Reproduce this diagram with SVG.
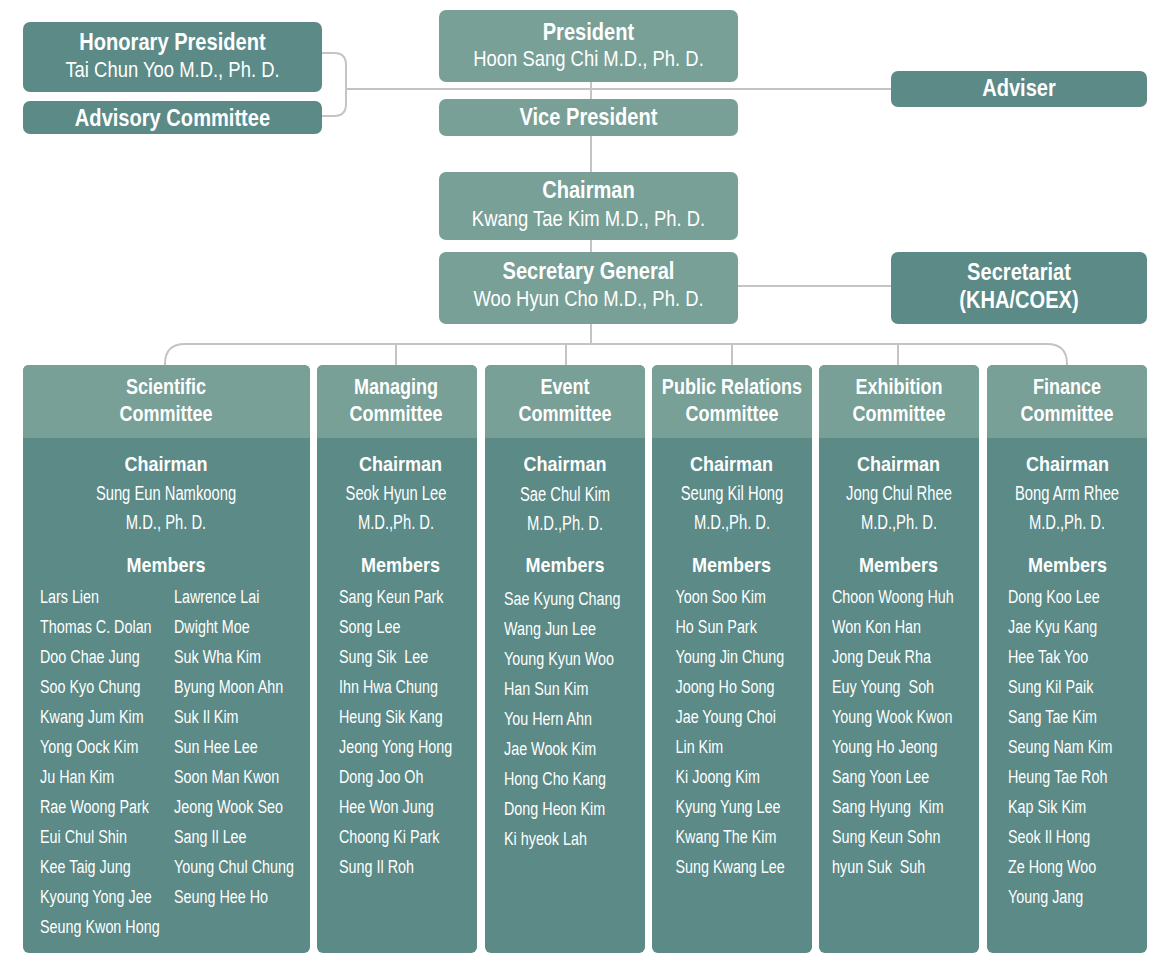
<svg xmlns="http://www.w3.org/2000/svg" width="1152" height="955" viewBox="0 0 1152 955">
<style>
.bg{fill:#ffffff}
.lt{fill:#78a097}
.dk{fill:#5b8a87}
.ln{fill:none;stroke:#c4c4c4;stroke-width:2}
text{fill:#ffffff;text-anchor:middle;font-family:"Liberation Sans",Arial,sans-serif}
.tb{font-weight:bold;font-size:24.5px}
.tr{font-size:22.5px}
.hb{font-weight:bold;font-size:22px}
.sb{font-weight:bold;font-size:20px}
.nm{font-size:19.5px}
.ls{font-size:19px;text-anchor:start}
</style>
<rect class="bg" x="0" y="0" width="1152" height="955"/>
<g id="connectors">
<path class="ln" d="M322,53 H334 Q346,53 346,65 V104 Q346,116 334,116 H322"/>
<path class="ln" d="M346,89 H891"/>
<path class="ln" d="M591,82 V344"/>
<path class="ln" d="M738,286 H891"/>
<path class="ln" d="M165,365 V364 Q165,344 185,344 H1047 Q1067,344 1067,364 V365"/>
<path class="ln" d="M396,344 V365 M566,344 V365 M732,344 V365 M898,344 V365"/>
</g>
<g id="honorary-president">
<rect class="dk" x="23" y="22" width="299" height="70" rx="7"/>
<g transform="matrix(0.82,0,0,1,31.05,0)">
<text class="tb" x="172.5" y="50">Honorary President</text>
<text class="tr" x="172.5" y="77.5">Tai Chun Yoo M.D., Ph. D.</text>
</g>
</g>
<g id="advisory-committee">
<rect class="dk" x="23" y="101" width="299" height="33" rx="7"/>
<g transform="matrix(0.82,0,0,1,31.05,0)">
<text class="tb" x="172.5" y="126">Advisory Committee</text>
</g>
</g>
<g id="president">
<rect class="lt" x="439" y="10" width="299" height="72" rx="7"/>
<g transform="matrix(0.82,0,0,1,105.93,0)">
<text class="tb" x="588.5" y="40">President</text>
<text class="tr" x="588.5" y="66.5">Hoon Sang Chi M.D., Ph. D.</text>
</g>
</g>
<g id="vice-president">
<rect class="lt" x="439" y="99" width="299" height="37" rx="7"/>
<g transform="matrix(0.82,0,0,1,105.93,0)">
<text class="tb" x="588.5" y="125">Vice President</text>
</g>
</g>
<g id="adviser">
<rect class="dk" x="891" y="71" width="256" height="36" rx="7"/>
<g transform="matrix(0.82,0,0,1,183.42,0)">
<text class="tb" x="1019" y="96">Adviser</text>
</g>
</g>
<g id="chairman">
<rect class="lt" x="439" y="172" width="299" height="68" rx="7"/>
<g transform="matrix(0.82,0,0,1,105.93,0)">
<text class="tb" x="588.5" y="198.5">Chairman</text>
<text class="tr" x="588.5" y="226">Kwang Tae Kim M.D., Ph. D.</text>
</g>
</g>
<g id="secretary-general">
<rect class="lt" x="439" y="252" width="299" height="72" rx="7"/>
<g transform="matrix(0.82,0,0,1,105.93,0)">
<text class="tb" x="588.5" y="279.5">Secretary General</text>
<text class="tr" x="588.5" y="306.5">Woo Hyun Cho M.D., Ph. D.</text>
</g>
</g>
<g id="secretariat">
<rect class="dk" x="891" y="252" width="256" height="72" rx="7"/>
<g transform="matrix(0.82,0,0,1,183.42,0)">
<text class="tb" x="1019" y="280">Secretariat</text>
<text class="tb" x="1019" y="308">(KHA/COEX)</text>
</g>
</g>

<g id="scientific-committee">
<rect class="dk" x="23" y="365" width="287" height="588" rx="6"/>
<path class="lt" d="M23,438 V371 Q23,365 29,365 H304 Q310,365 310,371 V438 Z"/>
<g transform="matrix(0.82,0,0,1,29.88,0)">
<text class="hb" x="166" y="394.5">Scientific</text>
<text class="hb" x="166" y="421.5">Committee</text>
</g>
<g transform="matrix(0.757,0,0,1,40.34,0)">
<text class="nm" x="166" y="500">Sung Eun Namkoong</text>
<text class="nm" x="166" y="529">M.D., Ph. D.</text>
</g>
<g transform="matrix(0.9,0,0,1,16.6,0)">
<text class="sb" x="166" y="471.5">Chairman</text>
<text class="sb" x="166" y="572">Members</text>
</g>
<g transform="matrix(0.7553,0,0,1,9.79,0)">
<text class="ls" x="40" y="603">Lars Lien</text>
<text class="ls" x="40" y="633">Thomas C. Dolan</text>
<text class="ls" x="40" y="663">Doo Chae Jung</text>
<text class="ls" x="40" y="693">Soo Kyo Chung</text>
<text class="ls" x="40" y="723">Kwang Jum Kim</text>
<text class="ls" x="40" y="753">Yong Oock Kim</text>
<text class="ls" x="40" y="783">Ju Han Kim</text>
<text class="ls" x="40" y="813">Rae Woong Park</text>
<text class="ls" x="40" y="843">Eui Chul Shin</text>
<text class="ls" x="40" y="873">Kee Taig Jung</text>
<text class="ls" x="40" y="903">Kyoung Yong Jee</text>
<text class="ls" x="40" y="933">Seung Kwon Hong</text>
</g>
<g transform="matrix(0.7553,0,0,1,42.58,0)">
<text class="ls" x="174" y="603">Lawrence Lai</text>
<text class="ls" x="174" y="633">Dwight Moe</text>
<text class="ls" x="174" y="663">Suk Wha Kim</text>
<text class="ls" x="174" y="693">Byung Moon Ahn</text>
<text class="ls" x="174" y="723">Suk Il Kim</text>
<text class="ls" x="174" y="753">Sun Hee Lee</text>
<text class="ls" x="174" y="783">Soon Man Kwon</text>
<text class="ls" x="174" y="813">Jeong Wook Seo</text>
<text class="ls" x="174" y="843">Sang Il Lee</text>
<text class="ls" x="174" y="873">Young Chul Chung</text>
<text class="ls" x="174" y="903">Seung Hee Ho</text>
</g>
</g>

<g id="managing-committee">
<rect class="dk" x="317" y="365" width="160" height="588" rx="6"/>
<path class="lt" d="M317,438 V371 Q317,365 323,365 H471 Q477,365 477,371 V438 Z"/>
<g transform="matrix(0.82,0,0,1,71.28,0)">
<text class="hb" x="396" y="394.5">Managing</text>
<text class="hb" x="396" y="421.5">Committee</text>
</g>
<g transform="matrix(0.757,0,0,1,96.23,0)">
<text class="nm" x="396" y="500">Seok Hyun Lee</text>
<text class="nm" x="396" y="529">M.D.,Ph. D.</text>
</g>
<g transform="matrix(0.9,0,0,1,40.05,0)">
<text class="sb" x="400.5" y="471.5">Chairman</text>
<text class="sb" x="400.5" y="572">Members</text>
</g>
<g transform="matrix(0.7553,0,0,1,82.95,0)">
<text class="ls" x="339" y="603">Sang Keun Park</text>
<text class="ls" x="339" y="633">Song Lee</text>
<text class="ls" x="339" y="663" xml:space="preserve">Sung Sik  Lee</text>
<text class="ls" x="339" y="693">Ihn Hwa Chung</text>
<text class="ls" x="339" y="723">Heung Sik Kang</text>
<text class="ls" x="339" y="753">Jeong Yong Hong</text>
<text class="ls" x="339" y="783">Dong Joo Oh</text>
<text class="ls" x="339" y="813">Hee Won Jung</text>
<text class="ls" x="339" y="843">Choong Ki Park</text>
<text class="ls" x="339" y="873">Sung Il Roh</text>
</g>
</g>

<g id="event-committee">
<rect class="dk" x="485" y="365" width="160" height="588" rx="6"/>
<path class="lt" d="M485,438 V371 Q485,365 491,365 H639 Q645,365 645,371 V438 Z"/>
<g transform="matrix(0.82,0,0,1,101.7,0)">
<text class="hb" x="565" y="394.5">Event</text>
<text class="hb" x="565" y="421.5">Committee</text>
</g>
<g transform="matrix(0.757,0,0,1,137.3,0)">
<text class="nm" x="565" y="501">Sae Chul Kim</text>
<text class="nm" x="565" y="530">M.D.,Ph. D.</text>
</g>
<g transform="matrix(0.9,0,0,1,56.5,0)">
<text class="sb" x="565" y="471.5">Chairman</text>
<text class="sb" x="565" y="572">Members</text>
</g>
<g transform="matrix(0.7553,0,0,1,123.33,0)">
<text class="ls" x="504" y="605">Sae Kyung Chang</text>
<text class="ls" x="504" y="635">Wang Jun Lee</text>
<text class="ls" x="504" y="665">Young Kyun Woo</text>
<text class="ls" x="504" y="695">Han Sun Kim</text>
<text class="ls" x="504" y="725">You Hern Ahn</text>
<text class="ls" x="504" y="755">Jae Wook Kim</text>
<text class="ls" x="504" y="785">Hong Cho Kang</text>
<text class="ls" x="504" y="815">Dong Heon Kim</text>
<text class="ls" x="504" y="845">Ki hyeok Lah</text>
</g>
</g>

<g id="public-relations-committee">
<rect class="dk" x="652" y="365" width="160" height="588" rx="6"/>
<path class="lt" d="M652,438 V371 Q652,365 658,365 H806 Q812,365 812,371 V438 Z"/>
<g transform="matrix(0.82,0,0,1,131.76,0)">
<text class="hb" x="732" y="394.5">Public Relations</text>
<text class="hb" x="732" y="421.5">Committee</text>
</g>
<g transform="matrix(0.757,0,0,1,177.88,0)">
<text class="nm" x="732" y="500">Seung Kil Hong</text>
<text class="nm" x="732" y="529">M.D.,Ph. D.</text>
</g>
<g transform="matrix(0.9,0,0,1,73.15,0)">
<text class="sb" x="731.5" y="471.5">Chairman</text>
<text class="sb" x="731.5" y="572">Members</text>
</g>
<g transform="matrix(0.7553,0,0,1,165.29,0)">
<text class="ls" x="675.5" y="603">Yoon Soo Kim</text>
<text class="ls" x="675.5" y="633">Ho Sun Park</text>
<text class="ls" x="675.5" y="663">Young Jin Chung</text>
<text class="ls" x="675.5" y="693">Joong Ho Song</text>
<text class="ls" x="675.5" y="723">Jae Young Choi</text>
<text class="ls" x="675.5" y="753">Lin Kim</text>
<text class="ls" x="675.5" y="783">Ki Joong Kim</text>
<text class="ls" x="675.5" y="813">Kyung Yung Lee</text>
<text class="ls" x="675.5" y="843">Kwang The Kim</text>
<text class="ls" x="675.5" y="873">Sung Kwang Lee</text>
</g>
</g>

<g id="exhibition-committee">
<rect class="dk" x="819" y="365" width="160" height="588" rx="6"/>
<path class="lt" d="M819,438 V371 Q819,365 825,365 H973 Q979,365 979,371 V438 Z"/>
<g transform="matrix(0.82,0,0,1,161.82,0)">
<text class="hb" x="899" y="394.5">Exhibition</text>
<text class="hb" x="899" y="421.5">Committee</text>
</g>
<g transform="matrix(0.757,0,0,1,218.46,0)">
<text class="nm" x="899" y="500">Jong Chul Rhee</text>
<text class="nm" x="899" y="529">M.D.,Ph. D.</text>
</g>
<g transform="matrix(0.9,0,0,1,89.85,0)">
<text class="sb" x="898.5" y="471.5">Chairman</text>
<text class="sb" x="898.5" y="572">Members</text>
</g>
<g transform="matrix(0.7553,0,0,1,203.59,0)">
<text class="ls" x="832" y="603">Choon Woong Huh</text>
<text class="ls" x="832" y="633">Won Kon Han</text>
<text class="ls" x="832" y="663">Jong Deuk Rha</text>
<text class="ls" x="832" y="693" xml:space="preserve">Euy Young  Soh</text>
<text class="ls" x="832" y="723">Young Wook Kwon</text>
<text class="ls" x="832" y="753">Young Ho Jeong</text>
<text class="ls" x="832" y="783">Sang Yoon Lee</text>
<text class="ls" x="832" y="813" xml:space="preserve">Sang Hyung  Kim</text>
<text class="ls" x="832" y="843">Sung Keun Sohn</text>
<text class="ls" x="832" y="873" xml:space="preserve">hyun Suk  Suh</text>
</g>
</g>

<g id="finance-committee">
<rect class="dk" x="987" y="365" width="160" height="588" rx="6"/>
<path class="lt" d="M987,438 V371 Q987,365 993,365 H1141 Q1147,365 1147,371 V438 Z"/>
<g transform="matrix(0.82,0,0,1,192.06,0)">
<text class="hb" x="1067" y="394.5">Finance</text>
<text class="hb" x="1067" y="421.5">Committee</text>
</g>
<g transform="matrix(0.757,0,0,1,259.28,0)">
<text class="nm" x="1067" y="500">Bong Arm Rhee</text>
<text class="nm" x="1067" y="529">M.D.,Ph. D.</text>
</g>
<g transform="matrix(0.9,0,0,1,106.75,0)">
<text class="sb" x="1067.5" y="471.5">Chairman</text>
<text class="sb" x="1067.5" y="572">Members</text>
</g>
<g transform="matrix(0.7553,0,0,1,246.66,0)">
<text class="ls" x="1008" y="603">Dong Koo Lee</text>
<text class="ls" x="1008" y="633">Jae Kyu Kang</text>
<text class="ls" x="1008" y="663">Hee Tak Yoo</text>
<text class="ls" x="1008" y="693">Sung Kil Paik</text>
<text class="ls" x="1008" y="723">Sang Tae Kim</text>
<text class="ls" x="1008" y="753">Seung Nam Kim</text>
<text class="ls" x="1008" y="783">Heung Tae Roh</text>
<text class="ls" x="1008" y="813">Kap Sik Kim</text>
<text class="ls" x="1008" y="843">Seok Il Hong</text>
<text class="ls" x="1008" y="873">Ze Hong Woo</text>
<text class="ls" x="1008" y="903">Young Jang</text>
</g>
</g>
</svg>
